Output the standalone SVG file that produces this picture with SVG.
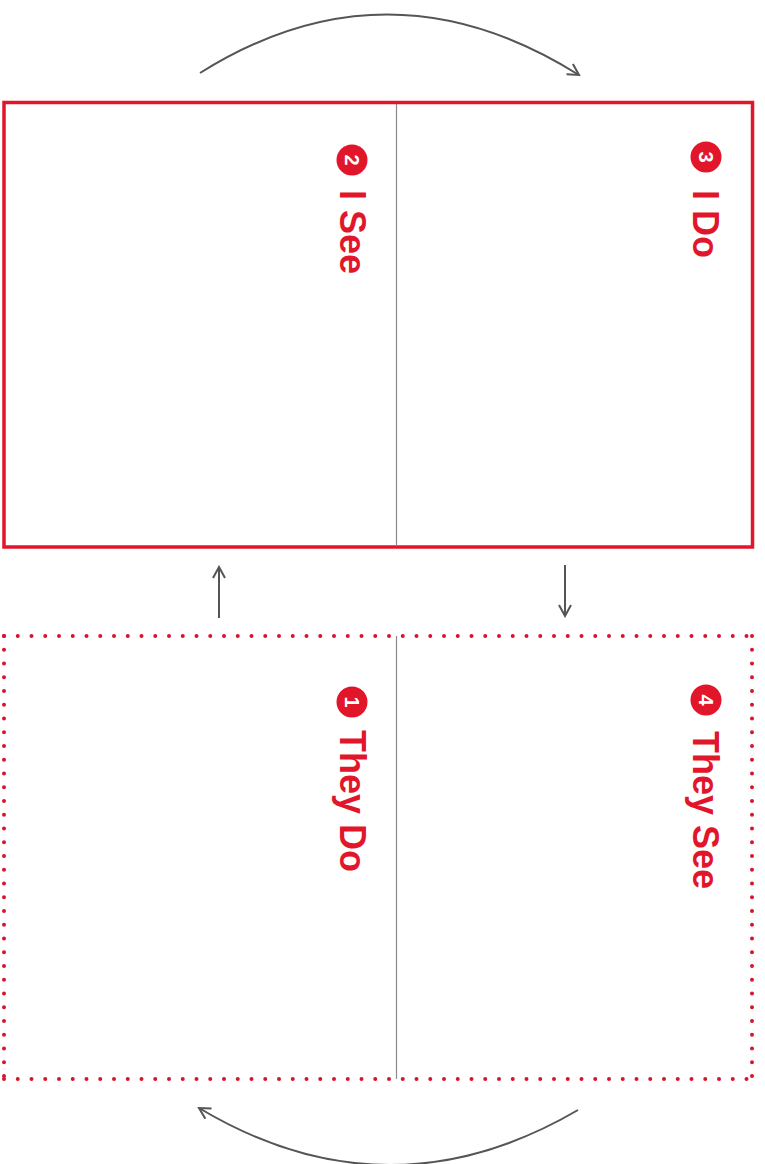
<svg xmlns="http://www.w3.org/2000/svg" width="765" height="1164" viewBox="0 0 765 1164">
<style>
.frame{fill:none;stroke:#e2162b;stroke-width:3.5}
.dots{fill:none;stroke:#d8142c;stroke-width:4;stroke-linecap:round;stroke-dasharray:0 13.75}
.divider{stroke:#8a8a8a;stroke-width:1.2}
.conn{fill:none;stroke:#555;stroke-width:2}
.lbl{font-family:"Liberation Sans",Arial,sans-serif;font-weight:bold;font-size:36px;fill:#e2162b}
.num{font-family:"Liberation Sans",Arial,sans-serif;font-weight:bold;font-size:20px;fill:#fff;text-anchor:middle}
.badge{fill:#e2162b}
</style>
<defs>
<marker id="head" viewBox="0 0 14 14" refX="12" refY="7" markerWidth="14" markerHeight="14" markerUnits="userSpaceOnUse" orient="auto">
<path d="M1,1 L12,7 L1,13" fill="none" stroke="#555" stroke-width="2"/>
</marker>
</defs>
<rect width="765" height="1164" fill="#fff"/>
<g id="panel-top">
<rect class="frame" x="4" y="102.5" width="748.5" height="444.5"/>
<line class="divider" x1="396.5" y1="104" x2="396.5" y2="546"/>
</g>
<g id="panel-bottom">
<path class="dots" d="M4,636 H752"/>
<path class="dots" d="M4,1079 H752"/>
<path class="dots" d="M4,636 V1079"/>
<path class="dots" d="M752,636 V1079"/>
<line class="divider" x1="396.5" y1="636" x2="396.5" y2="1079"/>
</g>
<g id="connectors">
<path class="conn" d="M200,73 Q388,-45 579,75" marker-end="url(#head)"/>
<path class="conn" d="M578,1110 Q388,1221 199,1108" marker-end="url(#head)"/>
<line class="conn" x1="219" y1="618" x2="219" y2="567" marker-end="url(#head)"/>
<line class="conn" x1="565" y1="565" x2="565" y2="616" marker-end="url(#head)"/>
</g>
<g id="node-i-see">
<circle class="badge" cx="352" cy="160" r="15.5"/>
<text class="num" transform="translate(352,160) rotate(90)" y="7">2</text>
<text class="lbl" transform="translate(340,190) rotate(90)">I See</text>
</g>
<g id="node-i-do">
<circle class="badge" cx="706" cy="157" r="15.5"/>
<text class="num" transform="translate(706,157) rotate(90)" y="7">3</text>
<text class="lbl" transform="translate(693,190) rotate(90)">I Do</text>
</g>
<g id="node-they-do">
<circle class="badge" cx="352" cy="702" r="15.5"/>
<text class="num" transform="translate(352,702) rotate(90)" y="7">1</text>
<text class="lbl" transform="translate(340,730) rotate(90)">They Do</text>
</g>
<g id="node-they-see">
<circle class="badge" cx="706" cy="700" r="15.5"/>
<text class="num" transform="translate(706,700) rotate(90)" y="7">4</text>
<text class="lbl" transform="translate(693,731) rotate(90)">They See</text>
</g>
</svg>
